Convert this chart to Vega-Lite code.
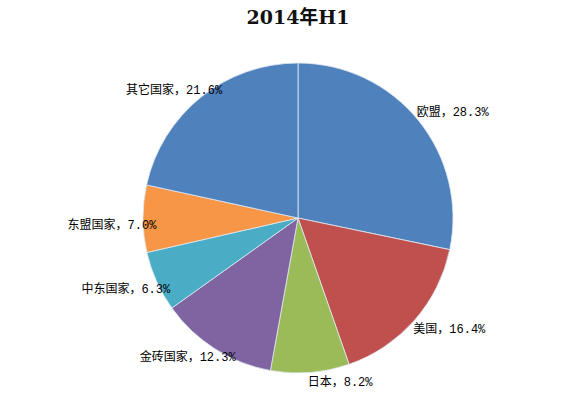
{
  "$schema": "https://vega.github.io/schema/vega-lite/v6.json",
  "autosize": {"type": "none"},
  "width": 548,
  "height": 360,
  "padding": {"left": 24, "top": 38, "right": 0, "bottom": 0},
  "background": "#ffffff",
  "title": {
    "text": "2014年H1",
    "font": "DejaVu Serif, Noto Sans CJK SC",
    "fontSize": 19,
    "fontWeight": "bold",
    "color": "#111111",
    "anchor": "middle",
    "offset": 10
  },
  "data": {
    "values": [
      {"region": "欧盟", "share": 28.3, "order": 1, "label": "欧盟，28.3%"},
      {"region": "美国", "share": 16.4, "order": 2, "label": "美国，16.4%"},
      {"region": "日本", "share": 8.2, "order": 3, "label": "日本，8.2%"},
      {"region": "金砖国家", "share": 12.3, "order": 4, "label": "金砖国家，12.3%"},
      {"region": "中东国家", "share": 6.3, "order": 5, "label": "中东国家，6.3%"},
      {"region": "东盟国家", "share": 7.0, "order": 6, "label": "东盟国家，7.0%"},
      {"region": "其它国家", "share": 21.6, "order": 7, "label": "其它国家，21.6%"}
    ]
  },
  "encoding": {
    "theta": {"field": "share", "type": "quantitative", "stack": true},
    "order": {"field": "order", "type": "quantitative"}
  },
  "layer": [
    {
      "mark": {"type": "arc", "outerRadius": 155, "stroke": "#dfe8f3", "strokeWidth": 0.8},
      "encoding": {
        "color": {
          "field": "region",
          "type": "nominal",
          "scale": {
            "domain": ["欧盟", "美国", "日本", "金砖国家", "中东国家", "东盟国家", "其它国家"],
            "range": ["#4F81BD", "#C0504D", "#9BBB59", "#8064A2", "#4BACC6", "#F79646", "#4F81BD"]
          },
          "legend": null
        }
      }
    },
    {
      "mark": {"type": "text", "radius": 180, "dx": 15, "dy": 8, "font": "Liberation Mono, Noto Sans CJK SC", "fontSize": 12, "color": "#000000"},
      "encoding": {"text": {"condition": {"test": "datum.region === '欧盟'", "field": "label"}, "value": ""}}
    },
    {
      "mark": {"type": "text", "radius": 180, "dx": 16, "dy": -8, "font": "Liberation Mono, Noto Sans CJK SC", "fontSize": 12, "color": "#000000"},
      "encoding": {"text": {"condition": {"test": "datum.region === '美国'", "field": "label"}, "value": ""}}
    },
    {
      "mark": {"type": "text", "radius": 180, "dx": 28, "dy": -15, "font": "Liberation Mono, Noto Sans CJK SC", "fontSize": 12, "color": "#000000"},
      "encoding": {"text": {"condition": {"test": "datum.region === '日本'", "field": "label"}, "value": ""}}
    },
    {
      "mark": {"type": "text", "radius": 180, "dx": -14, "dy": -13, "font": "Liberation Mono, Noto Sans CJK SC", "fontSize": 12, "color": "#000000"},
      "encoding": {"text": {"condition": {"test": "datum.region === '金砖国家'", "field": "label"}, "value": ""}}
    },
    {
      "mark": {"type": "text", "radius": 180, "dx": -8, "dy": -3, "font": "Liberation Mono, Noto Sans CJK SC", "fontSize": 12, "color": "#000000"},
      "encoding": {"text": {"condition": {"test": "datum.region === '中东国家'", "field": "label"}, "value": ""}}
    },
    {
      "mark": {"type": "text", "radius": 180, "dx": -6, "dy": 6, "font": "Liberation Mono, Noto Sans CJK SC", "fontSize": 12, "color": "#000000"},
      "encoding": {"text": {"condition": {"test": "datum.region === '东盟国家'", "field": "label"}, "value": ""}}
    },
    {
      "mark": {"type": "text", "radius": 180, "dx": -11, "dy": 12, "font": "Liberation Mono, Noto Sans CJK SC", "fontSize": 12, "color": "#000000"},
      "encoding": {"text": {"condition": {"test": "datum.region === '其它国家'", "field": "label"}, "value": ""}}
    }
  ]
}
